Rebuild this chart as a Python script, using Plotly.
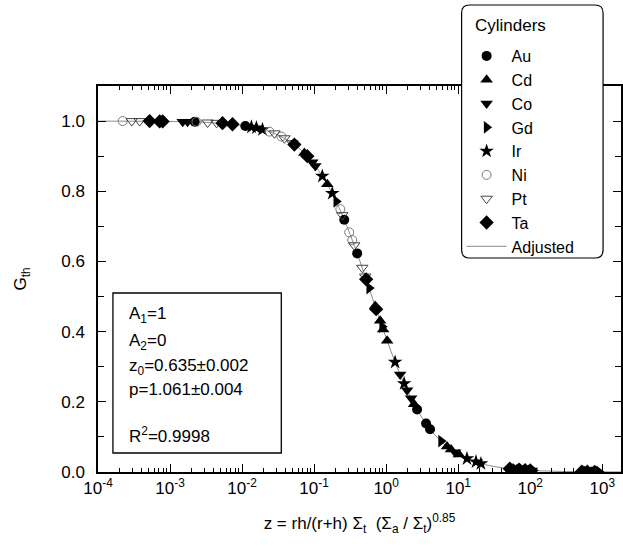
import plotly.graph_objects as go

# ---------------- data ----------------
au_z = [2.2e-3, 0.0111, 0.262, 0.396, 2.69, 3.58, 4.07]
au_g = [0.998, 0.986, 0.719, 0.623, 0.178, 0.138, 0.122]

cd_z = [0.0731, 0.1524, 0.704, 0.826, 0.909, 1.032, 2.44, 7.00, 7.95, 10.26, 55, 65, 80, 95, 560, 700, 850]
cd_g = [0.909, 0.820, 0.473, 0.431, 0.406, 0.374, 0.193, 0.073, 0.064, 0.050, 0.0087, 0.0073, 0.0059, 0.0049, 0.00075, 0.00059, 0.00048]

co_z = [1.50e-3, 1.75e-3, 0.0944, 0.104, 1.563, 1.954, 2.22, 9.03, 58, 75, 90, 105, 650, 750]
co_g = [0.998, 0.998, 0.883, 0.872, 0.278, 0.233, 0.210, 0.056, 0.0083, 0.0063, 0.0052, 0.0044, 0.00064, 0.00055]

gd_z = [0.2029, 0.581, 0.880, 5.78, 62, 78, 110, 600, 900]
gd_g = [0.771, 0.524, 0.414, 0.088, 0.0077, 0.0060, 0.0042, 0.0007, 0.00045]

ir_z = [0.01349, 0.0158, 0.0192, 0.130, 0.1787, 1.332, 1.776, 13.24, 17.65, 20.7]
ir_g = [0.983, 0.981, 0.976, 0.843, 0.794, 0.313, 0.252, 0.038, 0.029, 0.024]

ni_z = [2.2e-4, 2.33e-3, 0.024, 0.0351, 0.231, 0.307, 0.338]
ni_g = [1.000, 0.998, 0.970, 0.956, 0.749, 0.683, 0.661]

pt_z = [2.94e-4, 3.79e-4, 3.32e-3, 4.42e-3, 0.0281, 0.0387, 0.0499, 0.246, 0.360, 0.466, 0.512]
pt_g = [1.000, 1.000, 0.996, 0.995, 0.965, 0.951, 0.937, 0.732, 0.646, 0.582, 0.557]

ta_z = [5.21e-4, 7.18e-4, 7.9e-4, 5.35e-3, 7.36e-3, 0.0532, 0.0805, 0.528, 0.727, 52, 70, 85, 100, 520, 620, 780]
ta_g = [1.000, 0.999, 0.999, 0.994, 0.991, 0.933, 0.900, 0.549, 0.464, 0.0092, 0.0068, 0.0055, 0.0046, 0.00081, 0.00066, 0.00053]

fit_z = [1e-4, 1e-3, 3.16e-3, 1e-2, 1.78e-2, 3.16e-2, 5.62e-2, 7.50e-2, 0.1, 0.133, 0.178, 0.237,
         0.316, 0.422, 0.562, 0.750, 1.0, 1.33, 1.78, 2.37, 3.16, 4.22, 5.62, 7.50, 10.0,
         17.8, 31.6, 56.2, 100, 316, 1000, 1820]
fit_g = [0.9999, 0.9989, 0.9964, 0.9879, 0.9780, 0.9602, 0.9290, 0.9061, 0.8767, 0.8398, 0.7943, 0.7399,
         0.6771, 0.6070, 0.5324, 0.4562, 0.3820, 0.3129, 0.2512, 0.1982, 0.1541, 0.1184, 0.0900, 0.0679, 0.0510,
         0.0283, 0.0156, 0.00852, 0.00464, 0.00137, 0.00041, 0.00021]

x_ticks = [1e-4, 1e-3, 1e-2, 1e-1, 1e0, 1e1, 1e2, 1e3]
x_tick_labels = ["10<sup>-4</sup>", "10<sup>-3</sup>", "10<sup>-2</sup>", "10<sup>-1</sup>",
                 "10<sup>0</sup>", "10<sup>1</sup>", "10<sup>2</sup>", "10<sup>3</sup>"]
y_ticks = [0.0, 0.2, 0.4, 0.6, 0.8, 1.0]
y_tick_labels = ["0.0", "0.2", "0.4", "0.6", "0.8", "1.0"]

fit_lines = ["A<sub>1</sub>=1", "A<sub>2</sub>=0", "z<sub>0</sub>=0.635\u00b10.002",
             "p=1.061\u00b10.004", "R<sup>2</sup>=0.9998"]

FONT = "Arial, 'Liberation Sans', sans-serif"

fig = go.Figure()

series = [
    ("Au", au_z, au_g, "circle", 10, "black"),
    ("Cd", cd_z, cd_g, "triangle-up", 11, "black"),
    ("Co", co_z, co_g, "triangle-down", 11, "black"),
    ("Gd", gd_z, gd_g, "triangle-right", 11, "black"),
    ("Ir", ir_z, ir_g, "star", 11, "black"),
    ("Ni", ni_z, ni_g, "circle-open", 9, "#7a7a7a"),
    ("Pt", pt_z, pt_g, "triangle-down-open", 10, "#444444"),
    ("Ta", ta_z, ta_g, "diamond", 11, "black"),
]

fig.add_trace(go.Scatter(x=fit_z, y=fit_g, mode="lines", name="Adjusted",
                         line=dict(color="#8c8c8c", width=1, shape="spline"),
                         showlegend=False))

for name, zs, gs, sym, sz, col in series:
    fig.add_trace(go.Scatter(x=zs, y=gs, mode="markers", name=name,
                             marker=dict(symbol=sym, size=sz, color=col,
                                         line=dict(width=1 if "open" in sym else 0, color=col))))

# legend entry for the fitted line
fig.add_trace(go.Scatter(x=[None], y=[None], mode="lines", name="Adjusted",
                         line=dict(color="#8c8c8c", width=1)))

W, H = 623, 552
L, R, T, B = 98, 0, 86, 80
pw, ph = W - L - R, H - T - B

def px(x):
    return (x - L) / pw

def py(y):
    return (H - B - y) / ph

# rounded legend box
x0, x1 = px(463), px(605)
y0, y1 = py(258), py(5)
dx, dy = 8 / pw, 8 / ph
path = (f"M {x0+dx},{y1} L {x1-dx},{y1} Q {x1},{y1} {x1},{y1-dy} "
        f"L {x1},{y0+dy} Q {x1},{y0} {x1-dx},{y0} L {x0+dx},{y0} "
        f"Q {x0},{y0} {x0},{y0+dy} L {x0},{y1-dy} Q {x0},{y1} {x0+dx},{y1} Z")

shapes = [
    dict(type="path", path=path, xref="paper", yref="paper",
         line=dict(color="black", width=1.2), fillcolor="white", layer="above"),
    dict(type="rect", xref="paper", yref="paper", x0=px(113), x1=px(282),
         y0=py(453), y1=py(293), line=dict(color="black", width=1.3),
         fillcolor="rgba(0,0,0,0)", layer="above"),
]

annotations = [dict(text="Cylinders", xref="paper", yref="paper", x=px(474), y=py(25),
                    xanchor="left", yanchor="middle", showarrow=False,
                    font=dict(family=FONT, size=17, color="black"))]
for txt, yy in zip(fit_lines, [315, 342, 367, 389, 435]):
    annotations.append(dict(text=txt, xref="paper", yref="paper", x=px(127), y=py(yy),
                            xanchor="left", yanchor="middle", showarrow=False,
                            font=dict(family=FONT, size=17, color="black")))

fig.update_layout(
    width=W, height=H,
    margin=dict(l=L, r=R, t=T, b=B),
    paper_bgcolor="white", plot_bgcolor="white",
    font=dict(family=FONT, size=17, color="black"),
    shapes=shapes, annotations=annotations,
    showlegend=True,
    legend=dict(x=px(463), y=py(39), xanchor="left", yanchor="top",
                bgcolor="rgba(0,0,0,0)", borderwidth=0,
                font=dict(size=16), itemwidth=40, tracegroupgap=0),
)

fig.update_xaxes(
    type="log", range=[-4, 3.26], tickmode="array", tickvals=x_ticks, ticktext=x_tick_labels,
    showgrid=False, zeroline=False,
    showline=True, linecolor="black", linewidth=1.5, mirror="allticks",
    ticks="inside", ticklen=8, tickwidth=1.3, tickcolor="black",
    minor=dict(ticks="inside", ticklen=4, tickwidth=1, tickcolor="black", dtick="D1", showgrid=False),
    tickfont=dict(family=FONT, size=17),
    title=dict(text="z = rh/(r+h) \u03a3<sub>t</sub>  (\u03a3<sub>a</sub> / \u03a3<sub>t</sub>)<sup>0.85</sup>",
               font=dict(family=FONT, size=17), standoff=20),
)
fig.update_yaxes(
    range=[0, 1.1], tickmode="array", tickvals=y_ticks, ticktext=y_tick_labels,
    showgrid=False, zeroline=False,
    showline=True, linecolor="black", linewidth=1.5, mirror="allticks",
    ticks="inside", ticklen=8, tickwidth=1.3, tickcolor="black",
    minor=dict(ticks="inside", ticklen=6, tickwidth=1, tickcolor="black", dtick=0.1, showgrid=False),
    tickfont=dict(family=FONT, size=17), ticklabelstandoff=8,
    title=dict(text="G<sub>th</sub>", font=dict(family=FONT, size=17), standoff=30),
)

fig.write_html("out.html")
